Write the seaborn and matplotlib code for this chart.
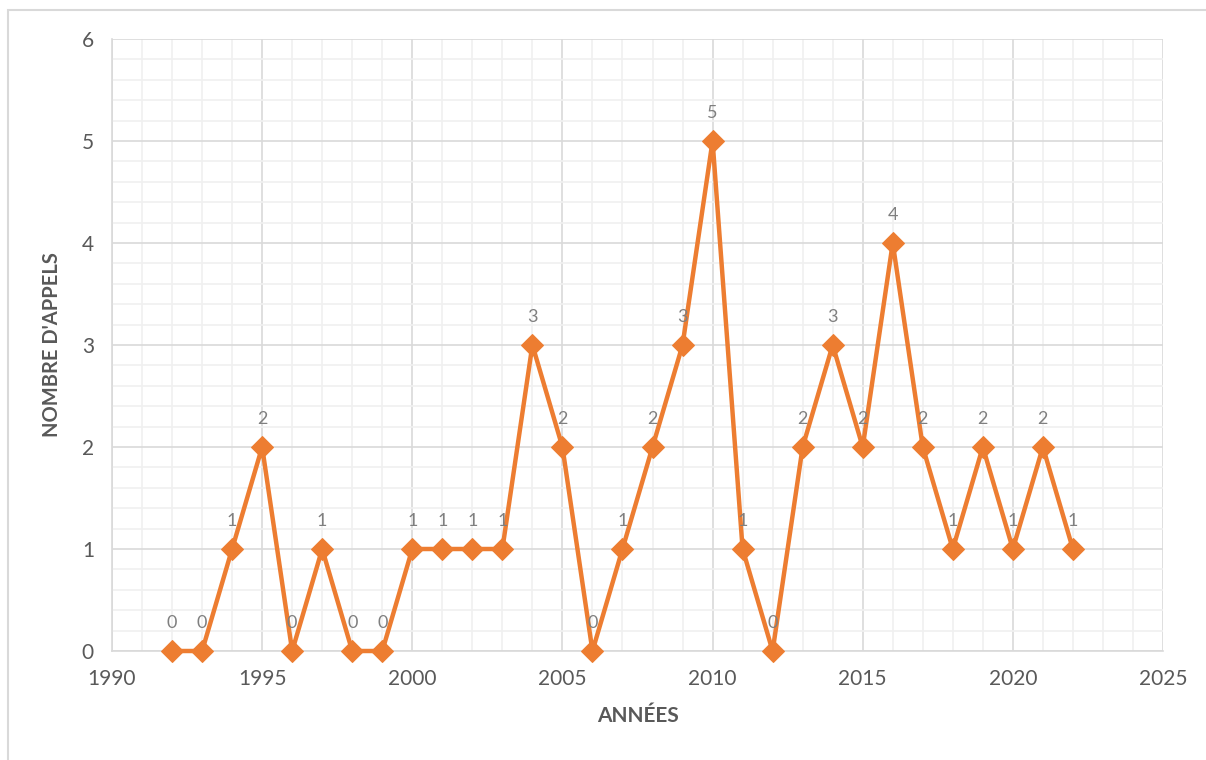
import numpy as np
import pandas as pd
import seaborn as sns
import matplotlib.pyplot as plt
from matplotlib.ticker import MultipleLocator
from matplotlib.patches import Rectangle

annees = list(range(1992, 2023))
appels = [0, 0, 1, 2, 0, 1, 0, 0, 1, 1, 1, 1, 3, 2, 0, 1, 2, 3, 5, 1, 0,
          2, 3, 2, 4, 2, 1, 2, 1, 2, 1]

df = pd.DataFrame({"annee": annees, "appels": appels})

sns.set_style("white")
plt.rcParams['font.family'] = ['Lato', 'DejaVu Sans']

fig = plt.figure(figsize=(12.06, 7.6), dpi=100)
ax = fig.add_axes([112 / 1206, 109 / 760, 1051 / 1206, 612 / 760])

# cadre du graphique
fig.patches.append(Rectangle((8 / 1206, -0.01), 1.05, (760 - 10) / 760 + 0.01,
                             transform=fig.transFigure, fill=False,
                             edgecolor="#d9d9d9", linewidth=1.5))

orange = "#ED7D31"
sns.lineplot(data=df, x="annee", y="appels", ax=ax, color=orange, linewidth=3.2,
             marker="D", markersize=11, markeredgecolor=orange, zorder=3)
for ln in ax.lines:
    ln.set_clip_on(False)

for x, y in zip(annees, appels):
    ax.text(x, y + 0.2, str(y), ha="center", va="bottom", fontsize=13,
            color="#7f7f7f", zorder=4)

ax.set_xlim(1990, 2025)
ax.set_ylim(0, 6)
ax.xaxis.set_major_locator(MultipleLocator(5))
ax.xaxis.set_minor_locator(MultipleLocator(1))
ax.yaxis.set_major_locator(MultipleLocator(1))
ax.yaxis.set_minor_locator(MultipleLocator(0.2))
ax.grid(which="major", color="#d9d9d9", linewidth=1.2, zorder=0)
ax.grid(which="minor", color="#f0f0f0", linewidth=1.2, zorder=0)
ax.set_axisbelow(True)

for s in ax.spines.values():
    s.set_visible(False)
ax.spines["left"].set_visible(True)
ax.spines["bottom"].set_visible(True)
ax.spines["left"].set_color("#d9d9d9")
ax.spines["bottom"].set_color("#d9d9d9")
ax.spines["left"].set_linewidth(1.2)
ax.spines["bottom"].set_linewidth(1.2)

ax.tick_params(axis="both", which="major", length=7, width=1.2, color="#d9d9d9",
               labelcolor="#595959", labelsize=15, pad=6)
ax.tick_params(axis="both", which="minor", length=0)

ax.set_xlabel("ANNÉES", fontsize=15, fontweight="bold", color="#595959", labelpad=12)
ax.set_ylabel("NOMBRE D'APPELS", fontsize=14.5, fontweight="bold", color="#595959", labelpad=14)

fig.savefig("out.png", dpi=100)
